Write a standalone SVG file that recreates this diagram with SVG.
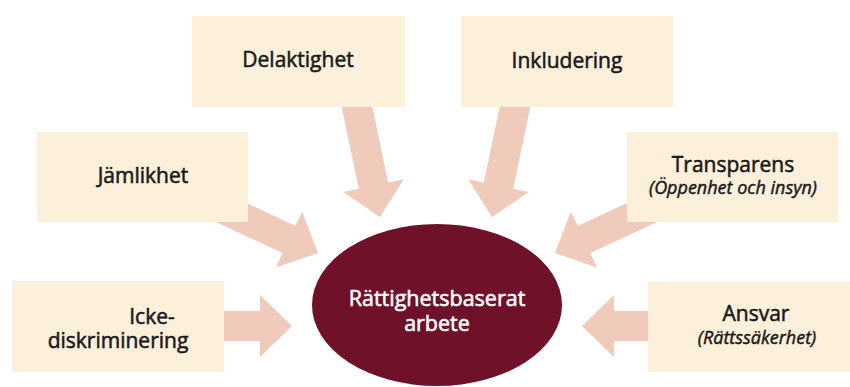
<svg xmlns="http://www.w3.org/2000/svg" width="850" height="387" viewBox="0 0 850 387">
<style>
.box{fill:#fdf0da}
.arr{fill:#f0cbbb}
.lbl{font-family:"Open Sans","Liberation Sans",sans-serif;font-weight:400;font-size:21px;fill:#1a1a1a;stroke:#1a1a1a;stroke-width:0.55px;text-anchor:middle}
.sub{font-family:"Open Sans","Liberation Sans",sans-serif;font-weight:400;font-style:italic;font-size:18px;fill:#1a1a1a;stroke:#1a1a1a;stroke-width:0.45px;text-anchor:middle}
.ctr{font-family:"Open Sans","Liberation Sans",sans-serif;font-weight:400;font-size:21.5px;fill:#ffffff;stroke:#ffffff;stroke-width:0.55px;text-anchor:middle}
</style>
<defs>
<path id="longArrow" d="M-130,-15 H-32 V-31 L0,0 L-32,31 V15 H-130 Z"/>
<path id="shortArrow" d="M-72,-15 H-32 V-31 L0,0 L-32,31 V15 H-72 Z"/>
</defs>
<rect width="850" height="387" fill="#ffffff"/>
<g id="connectors" class="arr">
<use href="#longArrow" transform="translate(380,217) rotate(78.2)"/>
<use href="#longArrow" transform="translate(492,217) rotate(101.8)"/>
<use href="#longArrow" transform="translate(318,253) rotate(25)"/>
<use href="#longArrow" transform="translate(555,253) rotate(155)"/>
<use href="#shortArrow" transform="translate(292,326)"/>
<use href="#shortArrow" transform="translate(582,326) rotate(180)"/>
</g>
<g id="delaktighet">
<rect class="box" x="192" y="16" width="213" height="91"/>
<text class="lbl" x="298" y="67">Delaktighet</text>
</g>
<g id="inkludering">
<rect class="box" x="461" y="16" width="212" height="91"/>
<text class="lbl" x="567" y="68">Inkludering</text>
</g>
<g id="jamlikhet">
<rect class="box" x="37" y="132" width="211" height="90"/>
<text class="lbl" x="143" y="183">Jämlikhet</text>
</g>
<g id="transparens">
<rect class="box" x="627" y="132" width="211" height="90"/>
<text class="lbl" x="733" y="172">Transparens</text>
<text class="sub" x="733" y="194">(Öppenhet och insyn)</text>
</g>
<g id="ickediskriminering">
<rect class="box" x="12" y="281" width="212" height="91"/>
<text class="lbl" x="152" y="324">Icke-</text>
<text class="lbl" x="118" y="348">diskriminering</text>
</g>
<g id="ansvar">
<rect class="box" x="648" y="282" width="202" height="90"/>
<text class="lbl" x="756" y="321">Ansvar</text>
<text class="sub" x="757" y="344">(Rättssäkerhet)</text>
</g>
<g id="center">
<ellipse cx="437" cy="305" rx="125" ry="81" fill="#6f1128"/>
<text class="ctr" x="437" y="306">Rättighetsbaserat</text>
<text class="ctr" x="437" y="331">arbete</text>
</g>
</svg>
